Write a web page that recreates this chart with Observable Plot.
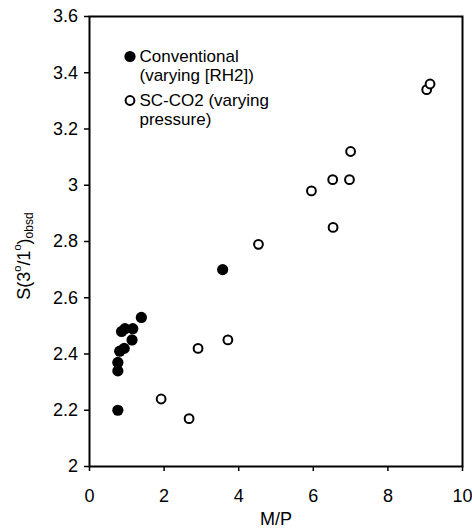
<!DOCTYPE html>
<html><head><meta charset="utf-8">
<script src="https://cdn.jsdelivr.net/npm/d3@7"></script>
<script src="https://cdn.jsdelivr.net/npm/@observablehq/plot@0.6"></script>
<style>body{margin:0;background:#fff}</style>
</head><body><div id="chart"></div>
<script>
// Conventional (varying [RH2]) — filled circles
const convMP = [0.76, 0.76, 0.76, 0.81, 0.93, 0.86, 0.95, 1.14, 1.16, 1.39, 3.57];
const convS  = [2.20, 2.34, 2.37, 2.41, 2.42, 2.48, 2.49, 2.45, 2.49, 2.53, 2.70];
// SC-CO2 (varying pressure) — open circles
const scMP = [1.92, 2.67, 2.91, 3.71, 4.53, 5.95, 6.52, 6.53, 6.97, 7.00, 9.04, 9.13];
const scS  = [2.24, 2.17, 2.42, 2.45, 2.79, 2.98, 3.02, 2.85, 3.02, 3.12, 3.34, 3.36];

const xTicks = [0, 2, 4, 6, 8, 10];
const yTicks = [2, 2.2, 2.4, 2.6, 2.8, 3, 3.2, 3.4, 3.6];
const yTickLabels = ["2", "2.2", "2.4", "2.6", "2.8", "3", "3.2", "3.4", "3.6"];
const legendLabels = ["Conventional", "(varying [RH2])", "SC-CO2 (varying", "pressure)"];
const xLabel = "M/P";

const conv = convMP.map((x, i) => ({x, y: convS[i]}));
const sc = scMP.map((x, i) => ({x, y: scS[i]}));

const font = "'Liberation Sans', Arial, Helvetica, sans-serif";

const plot = Plot.plot({
  width: 472, height: 531,
  marginLeft: 89, marginRight: 10, marginTop: 16, marginBottom: 65,
  style: {fontFamily: font, fontSize: "18px", color: "#000", background: "#fff"},
  x: {domain: [0, 10]},
  y: {domain: [2, 3.6]},
  marks: [
    Plot.axisX({ticks: xTicks, tickSize: 5, tickPadding: 18, label: null, strokeWidth: 1.5, fontSize: 18}),
    Plot.axisY({ticks: yTicks, tickSize: 5, tickPadding: 6.5, label: null, strokeWidth: 1.5, fontSize: 18,
      tickFormat: d => yTickLabels[yTicks.indexOf(d)]}),
    Plot.frame({stroke: "#000", strokeWidth: 2}),
    Plot.dot(sc, {x: "x", y: "y", r: 4.4, stroke: "#000", strokeWidth: 2, fill: "#fff"}),
    Plot.dot(conv, {x: "x", y: "y", r: 5.6, fill: "#000", stroke: "none"}),
    // legend
    Plot.dot([legendLabels[0]], {frameAnchor: "top-left", dx: 40.5, dy: 40, r: 5.6, fill: "#000", stroke: "none"}),
    Plot.dot([legendLabels[2]], {frameAnchor: "top-left", dx: 40.5, dy: 84, r: 4.4, fill: "#fff", stroke: "#000", strokeWidth: 2}),
    Plot.text([legendLabels[0]], {frameAnchor: "top-left", dx: 50, dy: 40, text: d => d, textAnchor: "start", lineAnchor: "middle", fontSize: 17}),
    Plot.text([legendLabels[1]], {frameAnchor: "top-left", dx: 50, dy: 59, text: d => d, textAnchor: "start", lineAnchor: "middle", fontSize: 17}),
    Plot.text([legendLabels[2]], {frameAnchor: "top-left", dx: 50, dy: 84, text: d => d, textAnchor: "start", lineAnchor: "middle", fontSize: 17}),
    Plot.text([legendLabels[3]], {frameAnchor: "top-left", dx: 50, dy: 103, text: d => d, textAnchor: "start", lineAnchor: "middle", fontSize: 17}),
    Plot.text([xLabel], {frameAnchor: "bottom", dy: 53, text: d => d, lineAnchor: "middle", fontSize: 18})
  ]
});

const svg = d3.select(plot);
const t = svg.append("text")
  .attr("transform", "translate(25,256) rotate(-90)")
  .attr("text-anchor", "middle")
  .attr("dominant-baseline", "middle")
  .attr("font-family", font)
  .attr("font-size", 18)
  .attr("fill", "#000");
t.append("tspan").text("S(3");
t.append("tspan").attr("font-size", 11).attr("dy", -7).text("o");
t.append("tspan").attr("dy", 7).text("/1");
t.append("tspan").attr("font-size", 11).attr("dy", -7).text("o");
t.append("tspan").attr("dy", 7).text(")");
t.append("tspan").attr("font-size", 12).attr("dy", 5).text("obsd");

document.getElementById("chart").appendChild(plot);
</script>
</body></html>
